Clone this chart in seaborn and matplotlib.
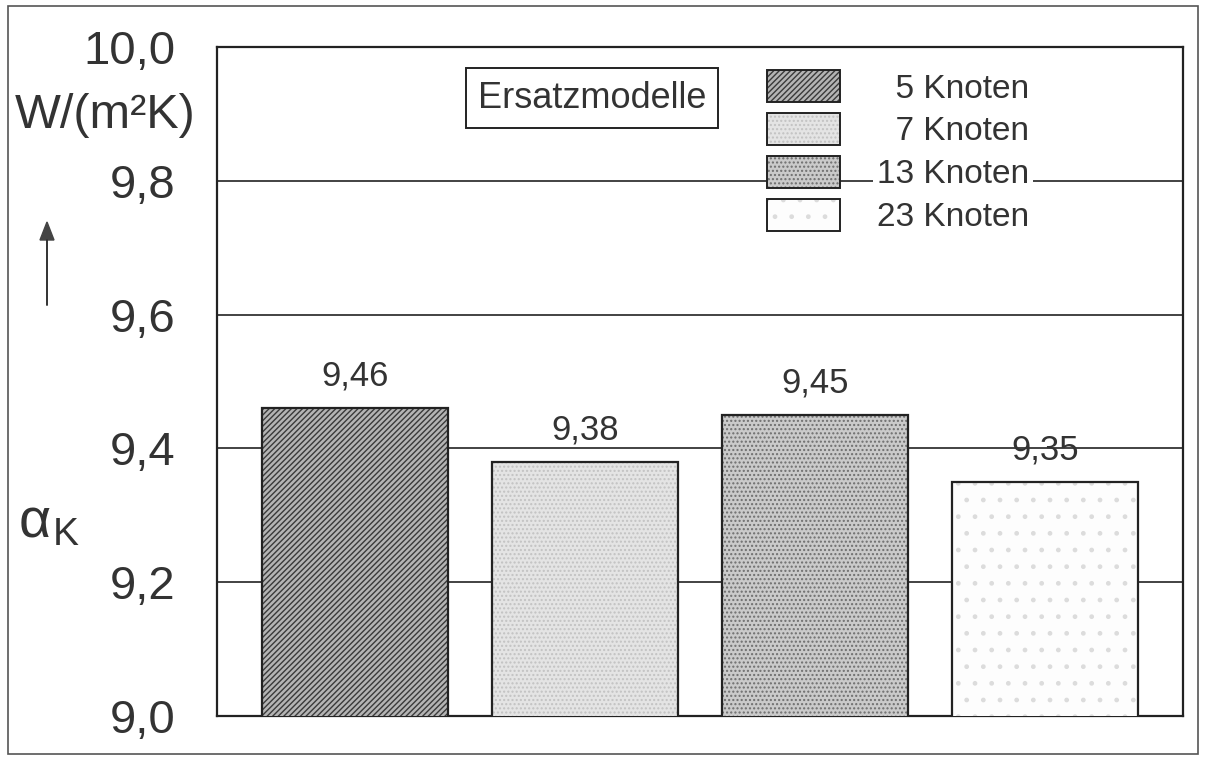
import matplotlib
matplotlib.use("Agg")
import matplotlib.pyplot as plt
from matplotlib.patches import Patch, Rectangle
import seaborn as sns

models = ["5 Knoten", "7 Knoten", "13 Knoten", "23 Knoten"]
alpha_k = [9.46, 9.38, 9.45, 9.35]
yticks = [9.0, 9.2, 9.4, 9.6, 9.8, 10.0]

# fill looks of the scanned bars: face, hatch, hatch colour
faces = ["#b4b4b4", "#e4e4e4", "#cacaca", "#fdfdfd"]
hatches = ["//////", "....", "....", "."]
hatch_cols = ["#3a3a3a", "#c2c2c2", "#6e6e6e", "#dcdcdc"]

sns.set_theme(style="white")
plt.rcParams["font.family"] = ["Liberation Sans", "DejaVu Sans"]
plt.rcParams["hatch.linewidth"] = 1.0
txt = "#333333"

fig = plt.figure(figsize=(12.08, 7.57), dpi=100)
ax = fig.add_axes([217 / 1208, 1 - 716 / 757, 966 / 1208, 669 / 757])

sns.barplot(x=models, y=alpha_k, hue=models, palette=faces, legend=False,
            saturation=1, width=0.81, ax=ax, zorder=3)

bars = sorted(ax.patches, key=lambda p: p.get_x())
for p, h, hc in zip(bars, hatches, hatch_cols):
    p.set_hatch(h)
    p.set_edgecolor(hc)
    p.set_linewidth(0)
    ax.add_patch(Rectangle((p.get_x(), p.get_y()), p.get_width(), p.get_height(),
                           fill=False, edgecolor="#222222", lw=1.6, zorder=4))

for c in ax.containers:
    ax.bar_label(c, labels=[f"{v:.2f}".replace(".", ",") for v in c.datavalues],
                 padding=11, fontsize=25, color=txt)

ax.set_ylim(9.0, 10.0)
ax.set_xlim(-0.6, 3.6)
ax.set_yticks(yticks)
ax.set_yticklabels([f"{v:.1f}".replace(".", ",") for v in yticks])
ax.tick_params(axis="y", length=0, pad=30, labelsize=34, labelcolor=txt)
ax.set_xticks([])
ax.set_xlabel("")
ax.yaxis.grid(True, color="#222222", lw=1.2, zorder=0)
ax.set_axisbelow(True)
for s in ax.spines.values():
    s.set_color("#222222")
    s.set_linewidth(1.6)

# legend
handles = [(Patch(facecolor=f, edgecolor=hc, hatch=h, lw=0),
            Patch(fill=False, edgecolor="#222222", lw=1.4))
           for f, h, hc in zip(faces, hatches, hatch_cols)]
labels = ["  5 Knoten", "  7 Knoten", "13 Knoten", "23 Knoten"]
leg = ax.legend(handles, labels, loc="upper left",
                bbox_to_anchor=(767 / 1208, 1 - 70 / 757),
                bbox_transform=fig.transFigure, frameon=False,
                fontsize=24, handlelength=2.2, handleheight=1.12,
                handletextpad=1.1, labelspacing=0.25, borderpad=0,
                borderaxespad=0)
leg.set_zorder(6)
for t in leg.get_texts():
    t.set_color(txt)
    t.set_bbox(dict(facecolor="white", edgecolor="none", pad=3))

fig.text(592 / 1208, 1 - 98 / 757, "Ersatzmodelle", fontsize=26, color=txt,
         ha="center", va="center", zorder=7,
         bbox=dict(boxstyle="square,pad=0.34", facecolor="white",
                   edgecolor="#222222", lw=1.4))

# axis annotation on the left
fig.text(105 / 1208, 1 - 116 / 757, "W/(m²K)", fontsize=35, color=txt,
         ha="center", va="center")
fig.text(35 / 1208, 1 - 524 / 757, "α", fontsize=40, color=txt,
         ha="center", va="center")
fig.text(66 / 1208, 1 - 535 / 757, "K", fontsize=28, color=txt,
         ha="center", va="center")
fig.add_artist(plt.Line2D([47 / 1208, 47 / 1208], [1 - 305 / 757, 1 - 240 / 757],
                          color="#333333", lw=1.4))
fig.patches.append(plt.Polygon([[40 / 1208, 1 - 240 / 757], [54 / 1208, 1 - 240 / 757],
                                [47 / 1208, 1 - 222 / 757]], closed=True,
                               color="#444444", transform=fig.transFigure))

# scan frame
fig.patches.append(Rectangle((8 / 1208, 3 / 757), 1190 / 1208, 748 / 757,
                             fill=False, edgecolor="#555555", lw=1.2,
                             transform=fig.transFigure))

fig.savefig("out.png", dpi=100)
